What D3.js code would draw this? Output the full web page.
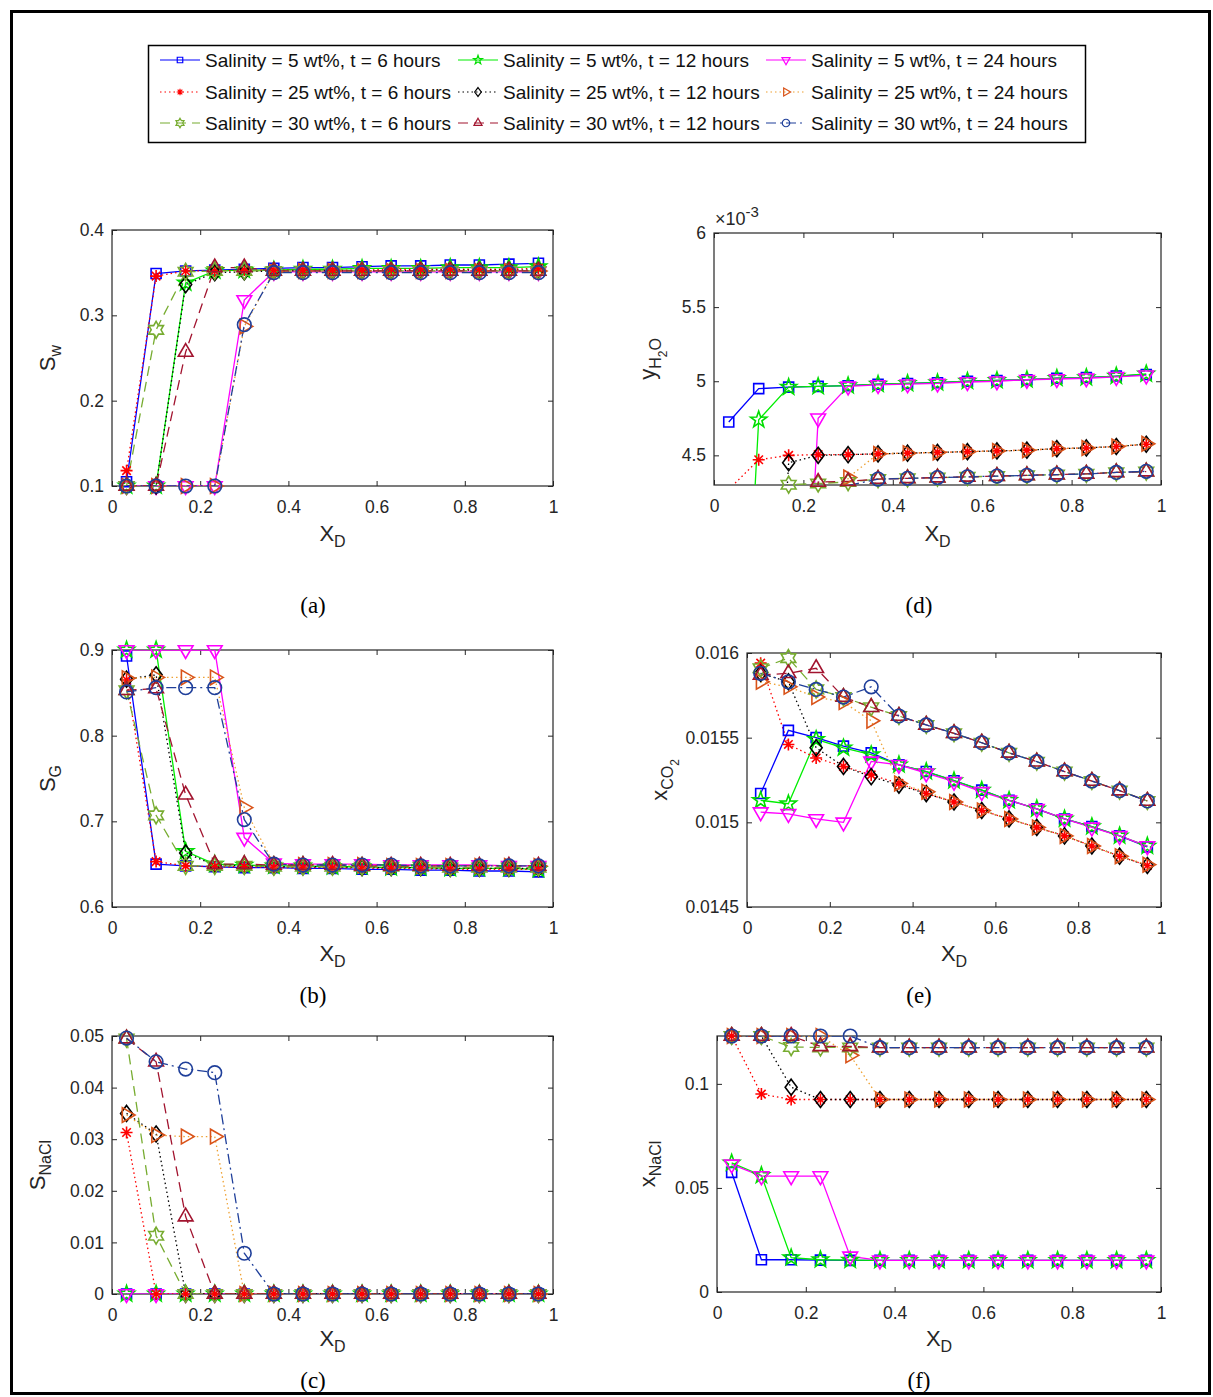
<!DOCTYPE html>
<html>
<head>
<meta charset="utf-8">
<script src="https://cdn.jsdelivr.net/npm/d3@7/dist/d3.min.js"></script>
<style>
  body { margin: 0; background: #fff; }
  text { font-family: "Liberation Sans", Arial, sans-serif; }
</style>
</head>
<body>
<svg id="fig" width="1213" height="1397"></svg>
<script>
// Dimensionless distance X_D of the 15 grid-block centres
const xD = [0.033, 0.1, 0.167, 0.233, 0.3, 0.367, 0.433, 0.5, 0.567, 0.633, 0.7, 0.767, 0.833, 0.9, 0.967];

// Series: salinity / time combinations
const seriesNames = [
  "Salinity = 5 wt%, t = 6 hours", "Salinity = 5 wt%, t = 12 hours", "Salinity = 5 wt%, t = 24 hours",
  "Salinity = 25 wt%, t = 6 hours", "Salinity = 25 wt%, t = 12 hours", "Salinity = 25 wt%, t = 24 hours",
  "Salinity = 30 wt%, t = 6 hours", "Salinity = 30 wt%, t = 12 hours", "Salinity = 30 wt%, t = 24 hours"
];
const lineColors   = ["#0000ff", "#00ee00", "#ff00ff", "#ff0000", "#000000", "#eea030", "#77ac30", "#a2142f", "#1f3f9a"];
const markerColors = ["#0000ff", "#00dd00", "#ff00ff", "#ff0000", "#000000", "#d95319", "#77ac30", "#a2142f", "#1f3f9a"];
const dashStyles   = [null, null, null, "1.5,3", "1.5,3", "1.5,3", "10,6", "10,6", "10,4,2,4"];
const markerKinds  = ["square", "pentagram", "triDown", "asterisk", "diamond", "triRight", "hexagram", "triUp", "circle"];

// Water saturation S_w
const swData = [
  [0.105,0.349,0.352,0.353,0.354,0.355,0.356,0.356,0.357,0.358,0.358,0.359,0.359,0.360,0.361],
  [0.100,0.100,0.338,0.352,0.353,0.353,0.354,0.354,0.355,0.355,0.355,0.356,0.356,0.356,0.357],
  [0.100,0.100,0.100,0.100,0.318,0.351,0.351,0.351,0.351,0.351,0.351,0.351,0.351,0.351,0.351],
  [0.118,0.346,0.352,0.352,0.353,0.353,0.353,0.353,0.353,0.354,0.354,0.354,0.354,0.354,0.355],
  [0.100,0.100,0.336,0.350,0.351,0.352,0.352,0.352,0.352,0.352,0.353,0.353,0.353,0.353,0.353],
  [0.100,0.100,0.100,0.100,0.287,0.351,0.352,0.352,0.352,0.352,0.352,0.352,0.352,0.352,0.352],
  [0.100,0.283,0.351,0.352,0.352,0.352,0.352,0.352,0.352,0.352,0.352,0.352,0.352,0.352,0.352],
  [0.100,0.100,0.257,0.356,0.356,0.352,0.352,0.352,0.352,0.352,0.352,0.352,0.352,0.352,0.352],
  [0.100,0.100,0.100,0.100,0.289,0.350,0.350,0.350,0.350,0.350,0.350,0.350,0.350,0.350,0.350]
];

// Gas saturation S_G
const sgData = [
  [0.893,0.650,0.648,0.647,0.646,0.646,0.645,0.645,0.644,0.644,0.643,0.643,0.642,0.642,0.641],
  [0.900,0.900,0.665,0.650,0.649,0.648,0.648,0.647,0.647,0.646,0.646,0.645,0.645,0.645,0.644],
  [0.900,0.900,0.900,0.900,0.681,0.651,0.650,0.650,0.650,0.649,0.649,0.649,0.649,0.648,0.648],
  [0.865,0.653,0.648,0.647,0.647,0.646,0.646,0.646,0.645,0.645,0.645,0.644,0.644,0.644,0.644],
  [0.866,0.871,0.663,0.649,0.648,0.647,0.647,0.647,0.646,0.646,0.646,0.645,0.645,0.645,0.645],
  [0.867,0.868,0.868,0.868,0.716,0.650,0.649,0.649,0.649,0.648,0.648,0.648,0.648,0.648,0.648],
  [0.853,0.707,0.648,0.648,0.648,0.647,0.647,0.647,0.647,0.647,0.647,0.646,0.646,0.646,0.646],
  [0.853,0.855,0.731,0.650,0.650,0.649,0.649,0.649,0.648,0.648,0.648,0.648,0.648,0.648,0.648],
  [0.851,0.856,0.856,0.856,0.702,0.650,0.649,0.649,0.649,0.649,0.648,0.648,0.648,0.648,0.648]
];

// Solid salt saturation S_NaCl
const snaclData = [
  [0,0,0,0,0,0,0,0,0,0,0,0,0,0,0],
  [0,0,0,0,0,0,0,0,0,0,0,0,0,0,0],
  [0,0,0,0,0,0,0,0,0,0,0,0,0,0,0],
  [0.0313,0,0,0,0,0,0,0,0,0,0,0,0,0,0],
  [0.0350,0.0310,0,0,0,0,0,0,0,0,0,0,0,0,0],
  [0.0347,0.0308,0.0305,0.0305,0,0,0,0,0,0,0,0,0,0,0],
  [0.0495,0.0113,0,0,0,0,0,0,0,0,0,0,0,0,0],
  [0.0495,0.0450,0.0150,0,0,0,0,0,0,0,0,0,0,0,0],
  [0.0496,0.0450,0.0436,0.0429,0.0079,0,0,0,0,0,0,0,0,0,0]
];

// Water mole fraction in gas y_H2O
const yh2oData = [
  [0.004725,0.004950,0.004960,0.004965,0.004970,0.004980,0.004985,0.004990,0.005000,0.005005,0.005010,0.005020,0.005025,0.005035,0.005045],
  [0.001000,0.004740,0.004960,0.004965,0.004970,0.004980,0.004985,0.004990,0.005000,0.005005,0.005010,0.005020,0.005025,0.005035,0.005050],
  [0.001000,0.001000,0.001000,0.004750,0.004965,0.004975,0.004980,0.004985,0.004995,0.005000,0.005010,0.005015,0.005020,0.005030,0.005040],
  [0.004270,0.004470,0.004500,0.004505,0.004505,0.004510,0.004515,0.004520,0.004525,0.004530,0.004535,0.004545,0.004550,0.004560,0.004575],
  [0.001000,0.001000,0.004450,0.004500,0.004505,0.004510,0.004515,0.004520,0.004525,0.004530,0.004535,0.004545,0.004550,0.004560,0.004575],
  [0.001000,0.001000,0.001000,0.001000,0.004350,0.004510,0.004515,0.004520,0.004525,0.004530,0.004535,0.004545,0.004550,0.004560,0.004578],
  [0.001000,0.001000,0.004302,0.004310,0.004320,0.004340,0.004345,0.004350,0.004355,0.004360,0.004365,0.004370,0.004375,0.004385,0.004390],
  [0.001000,0.001000,0.001000,0.004320,0.004325,0.004340,0.004345,0.004350,0.004355,0.004360,0.004365,0.004370,0.004375,0.004385,0.004390],
  [0.001000,0.001000,0.001000,0.001000,0.004296,0.004340,0.004345,0.004350,0.004355,0.004360,0.004365,0.004370,0.004375,0.004385,0.004392]
];

// CO2 mole fraction in brine x_CO2
const xco2Data = [
  [0.01517,0.015543,0.01550,0.01545,0.01541,0.01534,0.01530,0.015246,0.01519,0.01513,0.01508,0.01502,0.014975,0.01492,0.014855],
  [0.01513,0.01511,0.01549,0.01544,0.01540,0.01534,0.01530,0.015246,0.01519,0.01513,0.01508,0.01502,0.014975,0.01492,0.01486],
  [0.01506,0.01505,0.01502,0.01500,0.01536,0.01534,0.01529,0.01524,0.01518,0.01513,0.01508,0.01502,0.01497,0.01492,0.01486],
  [0.01594,0.01546,0.01538,0.01533,0.01528,0.01523,0.01517,0.01512,0.01507,0.01502,0.01497,0.01492,0.01486,0.01480,0.014745],
  [0.01588,0.01583,0.01544,0.01533,0.01527,0.01522,0.01517,0.01512,0.01507,0.01502,0.01497,0.01492,0.01486,0.01480,0.014745],
  [0.01583,0.01580,0.01574,0.01571,0.01560,0.01523,0.01518,0.01512,0.01507,0.01502,0.01497,0.01492,0.01486,0.01480,0.01475],
  [0.01591,0.01597,0.015785,0.01574,0.01568,0.015628,0.015575,0.015526,0.01547,0.01541,0.015358,0.01530,0.015244,0.015187,0.015126],
  [0.01587,0.01588,0.01591,0.01574,0.01568,0.015628,0.015575,0.015526,0.01547,0.01541,0.015358,0.01530,0.015244,0.015187,0.015126],
  [0.01588,0.01583,0.015785,0.01574,0.01580,0.015628,0.015575,0.015526,0.01547,0.01541,0.015358,0.01530,0.015244,0.015187,0.015126]
];

// NaCl mole fraction in brine x_NaCl
const xnaclData = [
  [0.0575,0.0155,0.0155,0.0153,0.0152,0.0152,0.0152,0.0152,0.0152,0.0152,0.0152,0.0152,0.0152,0.0152,0.0152],
  [0.0620,0.0560,0.0165,0.0155,0.0153,0.0152,0.0152,0.0152,0.0152,0.0152,0.0152,0.0152,0.0152,0.0152,0.0152],
  [0.0613,0.0557,0.0557,0.0557,0.0171,0.0152,0.0152,0.0152,0.0152,0.0152,0.0152,0.0152,0.0152,0.0152,0.0152],
  [0.1230,0.0951,0.0925,0.0925,0.0925,0.0925,0.0925,0.0925,0.0925,0.0925,0.0925,0.0925,0.0925,0.0925,0.0925],
  [0.1230,0.1230,0.0984,0.0925,0.0925,0.0925,0.0925,0.0925,0.0925,0.0925,0.0925,0.0925,0.0925,0.0925,0.0925],
  [0.1230,0.1230,0.1230,0.1230,0.1137,0.0925,0.0925,0.0925,0.0925,0.0925,0.0925,0.0925,0.0925,0.0925,0.0925],
  [0.1230,0.1230,0.1177,0.1175,0.1175,0.1174,0.1174,0.1174,0.1174,0.1174,0.1174,0.1174,0.1174,0.1174,0.1174],
  [0.1230,0.1230,0.1230,0.1180,0.1180,0.1174,0.1174,0.1174,0.1174,0.1174,0.1174,0.1174,0.1174,0.1174,0.1174],
  [0.1230,0.1230,0.1230,0.1230,0.1230,0.1174,0.1174,0.1174,0.1174,0.1174,0.1174,0.1174,0.1174,0.1174,0.1174]
];

const xTicks = [0, 0.2, 0.4, 0.6, 0.8, 1];
const swTicks = [0.1, 0.2, 0.3, 0.4];
const sgTicks = [0.6, 0.7, 0.8, 0.9];
const snaclTicks = [0, 0.01, 0.02, 0.03, 0.04, 0.05];
const yh2oTicks = [0.0045, 0.005, 0.0055, 0.006];
const xco2Ticks = [0.0145, 0.015, 0.0155, 0.016];
const xnaclTicks = [0, 0.05, 0.1];

const svg = d3.select("#fig");
const AXIS = "#262626";

// Marker shapes centred on the origin
function starPath(n, ro, ri) {
  const pts = [];
  for (let k = 0; k < 2 * n; k++) {
    const r = k % 2 ? ri : ro, a = Math.PI * k / n;
    pts.push([r * Math.sin(a), -r * Math.cos(a)]);
  }
  return "M" + pts.map(p => p[0].toFixed(2) + "," + p[1].toFixed(2)).join("L") + "Z";
}
function triPath(r, rot) {
  const pts = [0, 1, 2].map(k => {
    const a = rot + k * 2 * Math.PI / 3;
    return [r * Math.sin(a), -r * Math.cos(a)];
  });
  return "M" + pts.map(p => p[0].toFixed(2) + "," + p[1].toFixed(2)).join("L") + "Z";
}
const markerPath = {
  square:    s => `M${-5*s},${-5*s}H${5*s}V${5*s}H${-5*s}Z`,
  pentagram: s => starPath(5, 8.5 * s, 3.4 * s),
  triDown:   s => triPath(8.5 * s, Math.PI),
  asterisk:  s => { const r = 6 * s, d = r * 0.707;
                    return `M${-r},0H${r}M0,${-r}V${r}M${-d},${-d}L${d},${d}M${-d},${d}L${d},${-d}`; },
  diamond:   s => `M0,${-8*s}L${6*s},0L0,${8*s}L${-6*s},0Z`,
  triRight:  s => triPath(8.5 * s, Math.PI / 2),
  hexagram:  s => starPath(6, 8.5 * s, 4.9 * s),
  triUp:     s => triPath(8.5 * s, 0),
  circle:    s => { const r = 6.8 * s; return `M${-r},0A${r},${r} 0 1,0 ${r},0A${r},${r} 0 1,0 ${-r},0Z`; }
};

const panels = [
  { id: "a", box: [112, 230, 553, 486], yDom: [0.1, 0.4], yTicks: swTicks, fmt: d3.format(".1f"), data: swData,
    ylab: [["S", 0], ["w", 1]], ylabX: 55, tag: [313, 605], xlabY: 541 },
  { id: "d", box: [714, 233, 1161, 485], yDom: [0.0043, 0.006], yTicks: yh2oTicks, fmt: v => String(+(v * 1000).toFixed(1)), data: yh2oData,
    ylab: [["y", 0], ["H", 1], ["2", 2], ["O", 1]], ylabX: 655, tag: [919, 605], xlabY: 541, exponent: true },
  { id: "b", box: [112, 650, 553, 907], yDom: [0.6, 0.9], yTicks: sgTicks, fmt: d3.format(".1f"), data: sgData,
    ylab: [["S", 0], ["G", 1]], ylabX: 55, tag: [313, 995], xlabY: 961 },
  { id: "e", box: [747, 653, 1161, 907], yDom: [0.0145, 0.016], yTicks: xco2Ticks, fmt: v => String(+v.toFixed(4)), data: xco2Data,
    ylab: [["x", 0], ["CO", 1], ["2", 2]], ylabX: 667, tag: [919, 995], xlabY: 961 },
  { id: "c", box: [112, 1036, 553, 1294], yDom: [0, 0.05], yTicks: snaclTicks, fmt: v => v === 0 ? "0" : String(+v.toFixed(2)), data: snaclData,
    ylab: [["S", 0], ["NaCl", 1]], ylabX: 45, tag: [313, 1380], xlabY: 1346 },
  { id: "f", box: [717, 1036, 1161, 1292], yDom: [0, 0.123], yTicks: xnaclTicks, fmt: v => v === 0 ? "0" : String(+v.toFixed(2)), data: xnaclData,
    ylab: [["x", 0], ["NaCl", 1]], ylabX: 655, tag: [919, 1380], xlabY: 1346 }
];

// Outer frame of the figure
svg.append("rect").attr("x", 11.5).attr("y", 11.5).attr("width", 1198).attr("height", 1382)
  .attr("fill", "none").attr("stroke", "#000").attr("stroke-width", 3);

function drawPanel(p) {
  const [x0, y0, x1, y1] = p.box;
  const x = d3.scaleLinear().domain([0, 1]).range([x0, x1]);
  const y = d3.scaleLinear().domain(p.yDom).range([y1, y0]);
  const g = svg.append("g");

  g.append("clipPath").attr("id", "clip-" + p.id)
    .append("rect").attr("x", x0).attr("y", y0).attr("width", x1 - x0).attr("height", y1 - y0);

  // Axes with inward ticks on all four sides
  const styleAxis = sel => {
    sel.select(".domain").remove();
    sel.selectAll("line").attr("stroke", AXIS);
    sel.selectAll("text").attr("fill", AXIS).style("font-size", "17.5px")
      .style("font-family", "'Liberation Sans', Arial, sans-serif");
  };
  g.append("g").attr("transform", `translate(0,${y1})`)
    .call(d3.axisBottom(x).tickValues(xTicks).tickSize(-5).tickPadding(15).tickFormat(d3.format("~g")))
    .call(styleAxis);
  g.append("g").attr("transform", `translate(0,${y0})`)
    .call(d3.axisTop(x).tickValues(xTicks).tickSize(-5).tickFormat(""))
    .call(styleAxis);
  g.append("g").attr("transform", `translate(${x0},0)`)
    .call(d3.axisLeft(y).tickValues(p.yTicks).tickSize(-5).tickPadding(8).tickFormat(p.fmt))
    .call(styleAxis);
  g.append("g").attr("transform", `translate(${x1},0)`)
    .call(d3.axisRight(y).tickValues(p.yTicks).tickSize(-5).tickFormat(""))
    .call(styleAxis);
  g.append("rect").attr("x", x0).attr("y", y0).attr("width", x1 - x0).attr("height", y1 - y0)
    .attr("fill", "none").attr("stroke", AXIS).attr("stroke-width", 1.2);

  // Series lines
  const line = d3.line().x((d, i) => x(xD[i])).y(d => y(d));
  const lines = g.append("g").attr("clip-path", `url(#clip-${p.id})`);
  p.data.forEach((vals, s) => {
    lines.append("path").attr("d", line(vals)).attr("fill", "none")
      .attr("stroke", lineColors[s]).attr("stroke-width", 1.3)
      .attr("stroke-dasharray", dashStyles[s]);
  });

  // Markers (only those whose centre lies inside the axes)
  const lo = Math.min(...p.yDom) - 1e-9, hi = Math.max(...p.yDom) + 1e-9;
  p.data.forEach((vals, s) => {
    g.append("g").selectAll("path").data(vals.map((v, i) => [xD[i], v]).filter(d => d[1] >= lo && d[1] <= hi))
      .join("path")
      .attr("transform", d => `translate(${x(d[0])},${y(d[1])})`)
      .attr("d", markerPath[markerKinds[s]](1))
      .attr("fill", "none").attr("stroke", markerColors[s]).attr("stroke-width", 1.6);
  });

  // X axis title X_D
  const xt = g.append("text").attr("x", (x0 + x1) / 2).attr("y", p.xlabY).attr("text-anchor", "middle")
    .attr("fill", AXIS).style("font-size", "22px");
  xt.append("tspan").text("X");
  xt.append("tspan").attr("dy", 6).style("font-size", "16px").text("D");

  // Y axis title with subscripts
  const yt = g.append("text").attr("transform", `translate(${p.ylabX},${(y0 + y1) / 2}) rotate(-90)`)
    .attr("text-anchor", "middle").attr("fill", AXIS).style("font-size", "22px");
  let level = 0;
  p.ylab.forEach(([txt, lv]) => {
    const shift = (lv - level) * 6;
    yt.append("tspan").attr("dy", shift).style("font-size", lv === 0 ? "22px" : lv === 1 ? "16px" : "12px").text(txt);
    level = lv;
  });

  // Exponent multiplier above the y axis
  if (p.exponent) {
    const et = g.append("text").attr("x", x0 + 1).attr("y", y0 - 8).attr("fill", AXIS).style("font-size", "18px");
    et.append("tspan").text("\u00d710");
    et.append("tspan").attr("dy", -8).style("font-size", "15px").text("-3");
  }

  // Panel tag
  svg.append("text").attr("x", p.tag[0]).attr("y", p.tag[1]).attr("text-anchor", "middle").attr("dy", "0.35em")
    .style("font-family", "'Liberation Serif', 'Times New Roman', serif").style("font-size", "23px")
    .attr("fill", "#000").text(`(${p.id})`);
}
panels.forEach(drawPanel);

// Legend: three rows of three entries
const legend = svg.append("g");
legend.append("rect").attr("x", 148.5).attr("y", 45.5).attr("width", 937).attr("height", 97)
  .attr("fill", "#fff").attr("stroke", "#000").attr("stroke-width", 1.5);
const colX = [160, 458, 766];
const rowY = [60, 92, 123];
seriesNames.forEach((name, s) => {
  const cx = colX[s % 3], cy = rowY[Math.floor(s / 3)];
  legend.append("line").attr("x1", cx).attr("x2", cx + 40).attr("y1", cy).attr("y2", cy)
    .attr("stroke", lineColors[s]).attr("stroke-width", 1.2).attr("stroke-dasharray", dashStyles[s]);
  legend.append("path").attr("transform", `translate(${cx + 20},${cy})`)
    .attr("d", markerPath[markerKinds[s]](0.55)).attr("fill", "none")
    .attr("stroke", markerColors[s]).attr("stroke-width", 1.2);
  legend.append("text").attr("x", cx + 45).attr("y", cy).attr("dy", "0.35em")
    .attr("fill", "#111").style("font-size", "19px").text(name);
});
</script>
</body>
</html>
